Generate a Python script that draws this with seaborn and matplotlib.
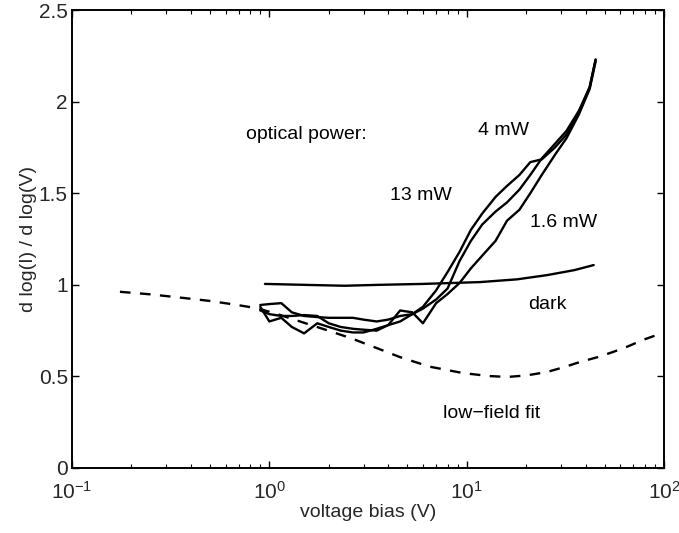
import numpy as np
import pandas as pd
import matplotlib
matplotlib.use("Agg")
import matplotlib.pyplot as plt
from matplotlib.ticker import LogLocator, FixedLocator, FixedFormatter, NullFormatter
import seaborn as sns

# Bias points (V) for the illuminated measurements
bias_v = [0.9, 1.0, 1.15, 1.3, 1.5, 1.75, 2.0, 2.3, 2.65, 3.0, 3.5, 4.0, 4.6, 5.3, 6.0,
          7.0, 8.0, 9.2, 10.5, 12.0, 14.0, 16.0, 18.5, 21.0, 24.0, 28.0, 32.0, 37.0, 42.0, 45.0]

# d log(I) / d log(V) for each optical power
slope_13mw = [0.89, 0.895, 0.90, 0.85, 0.83, 0.824, 0.82, 0.82, 0.82, 0.81, 0.80, 0.81, 0.83, 0.84, 0.88,
              0.97, 1.07, 1.18, 1.30, 1.39, 1.48, 1.54, 1.60, 1.67, 1.685, 1.75, 1.82, 1.94, 2.08, 2.23]
slope_4mw = [0.88, 0.80, 0.82, 0.77, 0.735, 0.79, 0.77, 0.75, 0.74, 0.74, 0.76, 0.78, 0.80, 0.84, 0.87,
             0.92, 0.98, 1.13, 1.24, 1.33, 1.40, 1.45, 1.52, 1.60, 1.69, 1.77, 1.84, 1.95, 2.08, 2.23]
slope_1p6mw = [0.86, 0.84, 0.83, 0.83, 0.835, 0.83, 0.79, 0.77, 0.76, 0.755, 0.75, 0.78, 0.86, 0.85, 0.79,
               0.90, 0.95, 1.01, 1.09, 1.16, 1.24, 1.35, 1.41, 1.50, 1.60, 1.71, 1.80, 1.93, 2.07, 2.22]

# Dark measurement
dark_v = [0.95, 1.5, 2.4, 3.6, 6.0, 11.7, 18.0, 25.5, 35.0, 44.0]
dark_slope = [1.005, 1.0, 0.995, 1.0, 1.005, 1.015, 1.03, 1.053, 1.08, 1.108]

# Low-field model fit
fit_v = [0.175, 0.25, 0.37, 0.5, 0.66, 0.87, 1.1, 1.43, 1.9, 2.57, 3.4, 4.6, 6.5, 9.6, 13.0,
         16.0, 20.0, 25.5, 31.0, 37.6, 46.0, 55.0, 66.0, 78.0, 100.0]
fit_slope = [0.962, 0.948, 0.928, 0.912, 0.893, 0.872, 0.84, 0.80, 0.757, 0.71, 0.66, 0.605, 0.553,
             0.518, 0.502, 0.497, 0.505, 0.524, 0.55, 0.579, 0.605, 0.633, 0.665, 0.699, 0.74]

y_ticks = [0, 0.5, 1, 1.5, 2, 2.5]
y_tick_labels = ["0", "0.5", "1", "1.5", "2", "2.5"]

sns.set_style("ticks")
plt.rcParams["font.family"] = ["Liberation Sans", "DejaVu Sans"]
plt.rcParams["mathtext.fontset"] = "custom"
plt.rcParams["mathtext.rm"] = "Liberation Sans"
plt.rcParams["mathtext.it"] = "Liberation Sans"

fig = plt.figure(figsize=(6.79, 5.33), dpi=100)
ax = fig.add_axes([0.106, 0.122, 0.872, 0.859])

optical = pd.concat([
    pd.DataFrame({"V": bias_v, "slope": slope_13mw, "power": "13 mW"}),
    pd.DataFrame({"V": bias_v, "slope": slope_4mw, "power": "4 mW"}),
    pd.DataFrame({"V": bias_v, "slope": slope_1p6mw, "power": "1.6 mW"}),
], ignore_index=True)

lw = 1.7
sns.lineplot(data=optical, x="V", y="slope", units="power", estimator=None, sort=False,
             color="black", linewidth=lw, ax=ax, legend=False)
sns.lineplot(x=dark_v, y=dark_slope, color="black", linewidth=lw, ax=ax, sort=False)
sns.lineplot(x=fit_v, y=fit_slope, color="black", linewidth=lw, ax=ax, sort=False,
             linestyle=(0, (4.5, 4)))

ax.set_xscale("log")
ax.set_xlim(0.1, 100)
ax.set_ylim(0, 2.5)
ax.yaxis.set_major_locator(FixedLocator(y_ticks))
ax.yaxis.set_major_formatter(FixedFormatter(y_tick_labels))
ax.xaxis.set_major_locator(LogLocator(base=10, numticks=10))
ax.xaxis.set_minor_locator(LogLocator(base=10, subs=np.arange(2, 10), numticks=20))
ax.xaxis.set_minor_formatter(NullFormatter())

ax.tick_params(axis="both", which="both", direction="in", top=True, right=True,
               labelsize=15, color="black")
ax.tick_params(axis="both", which="major", length=5, width=1)
ax.tick_params(axis="x", which="major", pad=9)
ax.tick_params(axis="y", which="major", pad=3)
ax.tick_params(axis="x", which="minor", length=3, width=0.8)
for side in ax.spines.values():
    side.set_linewidth(1.4)
    side.set_color("black")

ax.set_xlabel("voltage bias (V)", fontsize=14, labelpad=1)
ax.set_ylabel("d log(I) / d log(V)", fontsize=14, labelpad=1)

text_kw = dict(fontsize=14, va="center", ha="left", color="black")
ax.text(0.76, 1.82, "optical power:", **text_kw)
ax.text(11.4, 1.845, "4 mW", **text_kw)
ax.text(4.09, 1.49, "13 mW", **text_kw)
ax.text(20.9, 1.343, "1.6 mW", **text_kw)
ax.text(20.5, 0.89, "dark", **text_kw)
ax.text(7.59, 0.30, "low\u2212field fit", **text_kw)

fig.savefig("out.png", dpi=100)
